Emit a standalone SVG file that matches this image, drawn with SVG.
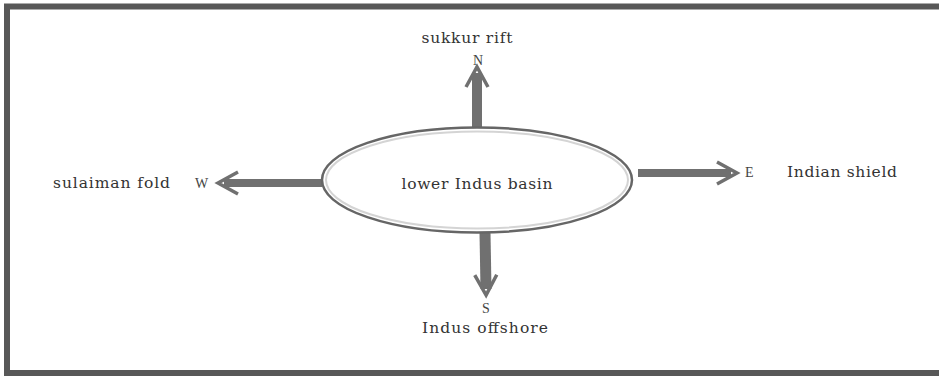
<svg xmlns="http://www.w3.org/2000/svg" width="939" height="378" viewBox="0 0 939 378">
<style>
.t{font-family:"DejaVu Serif","Liberation Serif",serif;font-size:15.5px;fill:#333;}
.d{font-family:"Liberation Serif",serif;font-size:14px;fill:#444;}
.sh{stroke:#707070;fill:none;stroke-linecap:butt;}
</style>
<defs>
<marker id="hd" markerUnits="userSpaceOnUse" viewBox="-30 -20 40 40" markerWidth="40" markerHeight="40" refX="0" refY="0" orient="auto">
<path d="M -14 -11 L 6 0 L -14 11" fill="none" stroke="#707070" stroke-width="3.5" stroke-linejoin="miter"/>
</marker>
</defs>
<rect x="0" y="0" width="939" height="378" fill="#fff"/>
<rect x="7" y="6.5" width="936" height="366.5" fill="none" stroke="#585858" stroke-width="6"/>
<g id="connectors">
<path class="sh" d="M477 128 L477 73" stroke-width="10" marker-end="url(#hd)"/>
<path class="sh" d="M322 183 L224 183" stroke-width="8" marker-end="url(#hd)"/>
<path class="sh" d="M638 173 L731 173" stroke-width="8" marker-end="url(#hd)"/>
<path class="sh" d="M485 233 L486 289" stroke-width="11" marker-end="url(#hd)"/>
</g>
<g id="basin">
<ellipse cx="477" cy="180" rx="155" ry="52.5" fill="#fff" stroke="#666" stroke-width="2.5"/>
<ellipse cx="477" cy="180" rx="151" ry="48.5" fill="none" stroke="#d4d4d4" stroke-width="2"/>
<text class="t" x="477" y="189" text-anchor="middle" textLength="151">lower Indus basin</text>
</g>
<g id="north">
<text class="t" x="467" y="43" text-anchor="middle" textLength="91">sukkur rift</text>
<text class="d" x="478" y="65" text-anchor="middle">N</text>
</g>
<g id="west">
<text class="t" x="53" y="188" textLength="117">sulaiman fold</text>
<text class="d" x="195" y="188">W</text>
</g>
<g id="east">
<text class="d" x="745" y="177">E</text>
<text class="t" x="787" y="177" textLength="110">Indian shield</text>
</g>
<g id="south">
<text class="d" x="486" y="313" text-anchor="middle">S</text>
<text class="t" x="485" y="333" text-anchor="middle" textLength="126">Indus offshore</text>
</g>
</svg>
